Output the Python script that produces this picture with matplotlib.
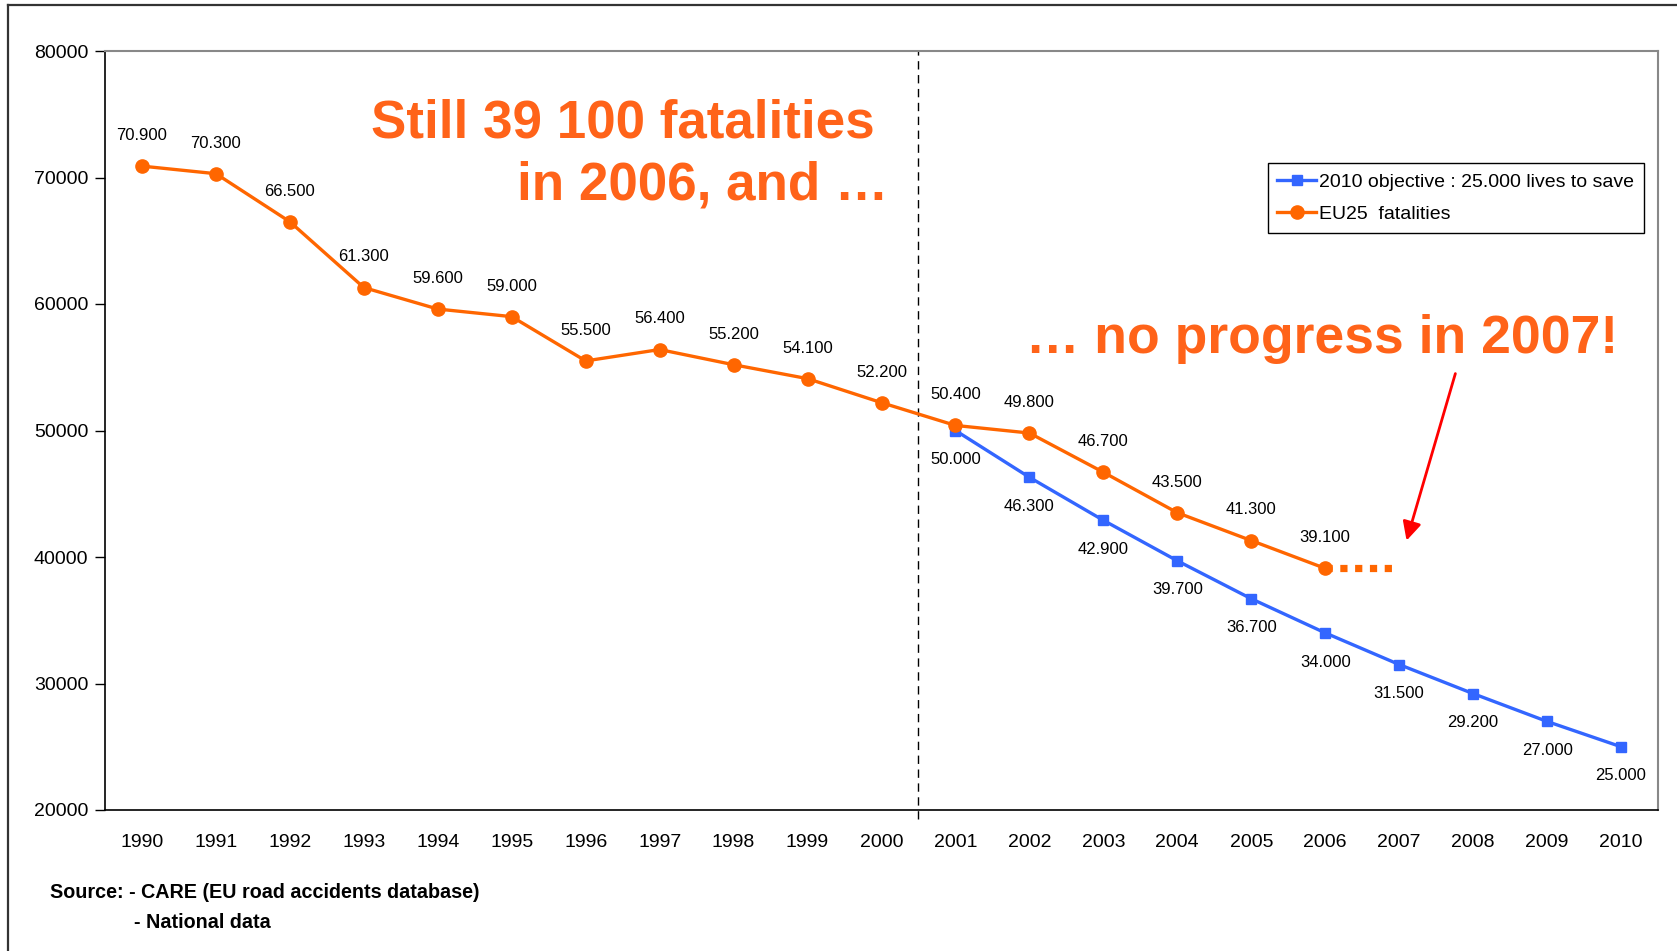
import matplotlib
matplotlib.use("Agg")
import matplotlib.pyplot as plt
from matplotlib.lines import Line2D

plt.rcParams['font.family'] = ['Liberation Sans', 'DejaVu Sans']

years = [str(y) for y in range(1990, 2011)]
eu25_years = years[:17]          # 1990 - 2006
eu25_fatalities = [70900, 70300, 66500, 61300, 59600, 59000, 55500, 56400,
                   55200, 54100, 52200, 50400, 49800, 46700, 43500, 41300, 39100]
objective_years = years[11:]     # 2001 - 2010
objective_values = [50000, 46300, 42900, 39700, 36700, 34000, 31500, 29200,
                    27000, 25000]
stall_years = ['2006', '2007']
stall_values = [39100, 39100]
yticks = [20000, 30000, 40000, 50000, 60000, 70000, 80000]

orange = '#FF6600'
blue = '#3366FF'
text_orange = '#FF6319'


def fmt(v):
    return f"{v:,}".replace(',', '.')


fig = plt.figure(figsize=(16.77, 9.51), dpi=100)
ax = fig.add_axes([105 / 1677, 1 - 810 / 951, 1553 / 1677, 759 / 951])

xi = {y: i for i, y in enumerate(years)}
ox = [xi[y] for y in objective_years]
ex = [xi[y] for y in eu25_years]
sx = [xi[y] for y in stall_years]

ax.plot(ox, objective_values, color=blue, lw=2.4, marker='s', ms=7,
        label='2010 objective : 25.000 lives to save', zorder=3)
ax.plot(ex, eu25_fatalities, color=orange, lw=2.4, marker='o', ms=9.5,
        label='EU25  fatalities', zorder=4)
ax.plot(sx, stall_values, color=orange, lw=5.2, dashes=(1, 1.05),
        dash_capstyle='butt', zorder=2)

for x, v in zip(ex, eu25_fatalities):
    ax.annotate(fmt(v), (x, v), xytext=(0, 22), textcoords='offset points',
                ha='center', va='center', fontsize=12)
for x, v in zip(ox, objective_values):
    ax.annotate(fmt(v), (x, v), xytext=(0, -21), textcoords='offset points',
                ha='center', va='center', fontsize=12)

ax.axvline(10.5, ymin=-0.012, ymax=1, color='black', lw=1, ls=(0, (6, 4)),
           clip_on=False, zorder=1)

ax.annotate('', xy=(17.1, 41300), xytext=(17.76, 54500),
            arrowprops=dict(arrowstyle='-|>', color='red', lw=2,
                            mutation_scale=28, shrinkA=0, shrinkB=0))

ax.set_xlim(-0.5, len(years) - 0.5)
ax.set_ylim(20000, 80000)
ax.set_xticks(range(len(years)))
ax.set_xticklabels(years)
ax.set_yticks(yticks)
ax.set_yticklabels([str(t) for t in yticks])
ax.tick_params(axis='x', length=0, pad=17, labelsize=14)
ax.tick_params(axis='y', direction='out', length=7, width=1, pad=5, labelsize=14)
for s in ['top', 'right']:
    ax.spines[s].set_color('#888888')
    ax.spines[s].set_linewidth(1.5)
for s in ['left', 'bottom']:
    ax.spines[s].set_color('black')
    ax.spines[s].set_linewidth(1.2)

leg = ax.legend(loc='upper right', bbox_to_anchor=(0.991, 0.852), fontsize=14,
                frameon=True, fancybox=False, framealpha=1, edgecolor='black',
                borderpad=0.5, handlelength=2.0, handletextpad=0.15,
                labelspacing=0.75, borderaxespad=0)
leg.get_frame().set_linewidth(1)

fig.text(875 / 1677, 1 - 137 / 951, 'Still 39 100 fatalities', ha='right',
         va='baseline', fontsize=38.2, fontweight='bold', color=text_orange)
fig.text(888 / 1677, 1 - 200 / 951, 'in 2006, and \u2026', ha='right',
         va='baseline', fontsize=38.2, fontweight='bold', color=text_orange)
fig.text(1026 / 1677, 1 - 353 / 951, '\u2026 no progress in 2007!', ha='left',
         va='baseline', fontsize=38.5, fontweight='bold', color=text_orange)

fig.text(50 / 1677, 1 - 893 / 951, 'Source: - CARE (EU road accidents database)',
         ha='left', va='center', fontsize=14.2, fontweight='bold')
fig.text(134 / 1677, 1 - 922 / 951, '- National data',
         ha='left', va='center', fontsize=14.2, fontweight='bold')

# outer frame (left and top edges visible)
fig.add_artist(Line2D([8 / 1677, 8 / 1677], [0, 1 - 5 / 951], color='#333333',
                      lw=1.6, transform=fig.transFigure))
fig.add_artist(Line2D([8 / 1677, 1], [1 - 5 / 951, 1 - 5 / 951], color='#333333',
                      lw=1.6, transform=fig.transFigure))

fig.savefig('out.png', dpi=100)
